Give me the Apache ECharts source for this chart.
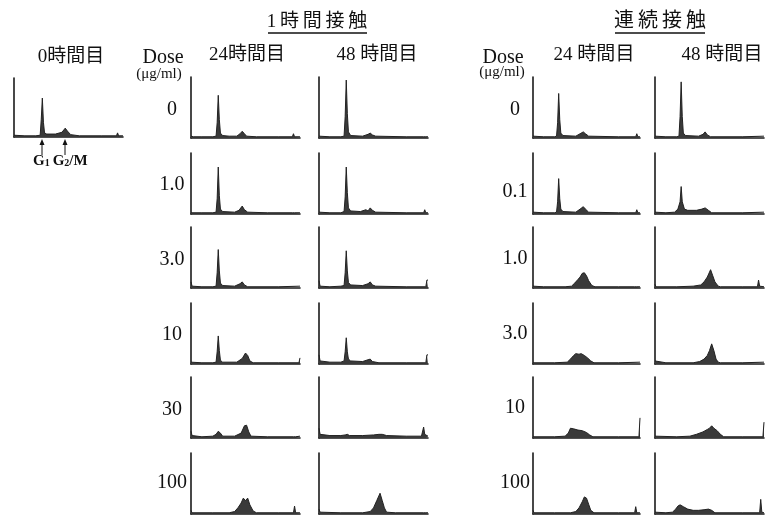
<!DOCTYPE html>
<html>
<head>
<meta charset="utf-8">
<script src="https://cdn.jsdelivr.net/npm/echarts@6/dist/echarts.min.js"></script>
<style>
html,body{margin:0;padding:0;background:#fff;}
#main{width:769px;height:517px;}
</style>
</head>
<body>
<div id="main"></div>
<script>
// dose labels per row
var doses1h = ['0', '1.0', '3.0', '10', '30', '100'];
var dosesCont = ['0', '0.1', '1.0', '3.0', '10', '100'];

// DNA histograms: [channel, count%]
var hist0h = [[0,3],[10,2],[20,2],[24,3],[25,30],[26,66],[27,25],[28,7],[30,5],[38,5],[44,8],[47,15],[49,10],[52,4],[60,2],[80,2],[94,2],[95,7],[96,2],[100,2]];

var hist1h24 = [
    [[0,3],[2,2],[10,2],[20,2],[23,3],[24,25],[25,70],[26,30],[27,8],[29,4],[35,3],[42,3],[45,7],[47,11],[49,7],[51,3],[60,2],[80,2],[93,2],[94,7],[95,2],[100,2]],
    [[0,2],[10,2],[20,2],[23,3],[24,25],[25,77],[26,30],[27,8],[29,4],[40,3],[44,6],[47,13],[49,7],[52,3],[70,2],[93,2],[94,3],[95,2],[100,2]],
    [[0,10],[1,3],[10,2],[20,2],[23,3],[24,25],[25,63],[26,28],[27,8],[29,4],[40,3],[45,7],[47,10],[49,5],[52,2],[80,2],[100,3]],
    [[0,3],[10,2],[20,2],[23,3],[24,20],[25,46],[26,22],[27,6],[29,3],[42,3],[47,9],[50,18],[52,14],[54,5],[57,2],[80,2],[99,2],[100,10]],
    [[0,11],[1,4],[10,2],[20,3],[23,6],[25,11],[27,8],[29,3],[40,3],[46,8],[49,20],[51,21],[53,10],[55,3],[70,2],[94,2],[95,5],[96,2],[100,3]],
    [[0,6],[1,2],[20,2],[35,2],[40,4],[43,10],[46,18],[48,26],[50,22],[52,26],[54,15],[57,5],[60,2],[80,2],[94,2],[95,13],[96,2],[100,2]]
];
var hist1h48 = [
    [[0,3],[10,2],[20,2],[23,3],[24,35],[25,95],[26,40],[27,10],[29,4],[40,3],[45,6],[47,8],[49,5],[52,3],[80,2],[96,2],[97,4],[98,2],[100,2]],
    [[0,3],[10,2],[20,2],[23,4],[24,28],[25,77],[26,35],[27,10],[29,5],[38,4],[43,7],[45,5],[47,10],[49,6],[52,3],[80,2],[96,2],[97,7],[98,2],[100,2]],
    [[0,12],[1,3],[10,2],[20,3],[23,4],[24,25],[25,61],[26,28],[27,9],[29,5],[40,4],[45,7],[47,10],[49,5],[52,3],[80,2],[98,2],[99,13],[100,13]],
    [[0,15],[1,5],[10,3],[20,3],[23,5],[24,20],[25,43],[26,20],[27,8],[29,5],[40,4],[45,7],[47,8],[49,4],[55,2],[80,2],[98,2],[99,15],[100,15]],
    [[0,16],[1,6],[10,4],[20,4],[24,5],[26,6],[28,4],[40,4],[50,5],[55,6],[58,6],[62,4],[80,3],[94,3],[96,18],[97,6],[98,3],[100,3]],
    [[0,8],[1,3],[20,2],[40,2],[47,4],[50,10],[53,22],[56,34],[58,22],[60,10],[62,3],[70,2],[96,2],[97,4],[98,2],[100,2]]
];
var histCont24 = [
    [[0,3],[10,2],[20,2],[22,3],[23,25],[24,73],[25,30],[26,8],[28,4],[40,3],[44,7],[47,10],[49,7],[52,3],[80,2],[96,2],[97,7],[98,2],[100,2]],
    [[0,3],[10,2],[20,2],[22,3],[23,20],[24,58],[25,25],[26,8],[28,4],[40,3],[44,8],[47,12],[49,8],[52,3],[80,2],[96,2],[97,7],[98,2],[100,2]],
    [[0,3],[10,2],[30,2],[36,3],[39,8],[42,14],[44,18],[46,24],[48,25],[50,20],[52,12],[55,4],[58,2],[80,2],[95,2],[96,5],[97,2],[100,2]],
    [[0,2],[20,2],[32,3],[35,8],[38,14],[40,17],[43,16],[45,17],[48,14],[51,10],[54,5],[57,2],[80,2],[100,3]],
    [[0,2],[20,2],[30,3],[33,8],[35,16],[38,15],[42,13],[46,12],[50,9],[53,5],[56,2],[80,2],[99,2],[100,33]],
    [[0,6],[1,2],[20,2],[35,2],[40,4],[43,10],[46,20],[48,28],[50,26],[52,16],[54,6],[57,2],[80,2],[95,2],[96,12],[97,2],[100,2]]
];
var histCont48 = [
    [[0,3],[10,2],[20,2],[22,3],[23,35],[24,92],[25,35],[26,8],[28,4],[40,3],[44,6],[46,10],[48,5],[51,2],[80,2],[100,3]],
    [[0,3],[10,2],[18,3],[21,8],[23,20],[24,45],[25,20],[27,8],[30,6],[38,6],[43,8],[46,10],[49,6],[52,2],[80,2],[100,3]],
    [[0,6],[1,2],[20,2],[35,3],[42,5],[45,10],[48,18],[51,30],[53,20],[55,10],[58,3],[60,2],[80,2],[94,2],[95,13],[96,3],[100,2]],
    [[0,5],[1,2],[10,2],[35,2],[41,4],[45,8],[48,14],[50,22],[52,33],[54,22],[56,8],[58,3],[60,2],[80,2],[100,3]],
    [[0,3],[20,2],[32,3],[38,6],[44,10],[48,14],[50,16],[52,20],[54,16],[57,12],[60,6],[63,2],[80,2],[99,2],[100,26]],
    [[0,3],[10,2],[16,3],[19,8],[21,13],[23,15],[26,12],[30,8],[35,6],[40,6],[45,7],[49,8],[52,6],[55,2],[80,2],[96,2],[97,24],[98,3],[100,2]]
];

// layout
var colLeft = [191, 319, 533, 655];
var colWidth = [109, 109, 107, 109];
var rowTop = [77, 153, 227, 303, 377, 453];
var rowH = 61;
var columns = [hist1h24, hist1h48, histCont24, histCont48];

var serif = '"Liberation Serif", "Noto Sans CJK JP", serif';
var jp = '"Liberation Serif", "Noto Sans CJK JP", sans-serif';

var grids = [], xAxes = [], yAxes = [], series = [];

function addPanel(left, top, width, height, data) {
    var i = grids.length;
    grids.push({left: left, top: top, width: width, height: height});
    var axisLine = {show: true, lineStyle: {color: '#1a1a1a', width: 1.6}};
    xAxes.push({gridIndex: i, type: 'value', min: 0, max: 100,
        axisLine: axisLine, axisTick: {show: false}, axisLabel: {show: false}, splitLine: {show: false}});
    yAxes.push({gridIndex: i, type: 'value', min: 0, max: 100,
        axisLine: axisLine, axisTick: {show: false}, axisLabel: {show: false}, splitLine: {show: false}});
    series.push({
        type: 'line', xAxisIndex: i, yAxisIndex: i, data: data,
        symbol: 'none', lineStyle: {color: '#222', width: 1},
        areaStyle: {color: '#3a3a3a', opacity: 1}
    });
}

addPanel(14, 78, 109, 59, hist0h);
columns.forEach(function (col, c) {
    col.forEach(function (h, r) {
        addPanel(colLeft[c], rowTop[r], colWidth[c], rowH, h);
    });
});

function txt(x, y, text, size, font) {
    return {type: 'text', x: x, y: y,
        style: {text: text, fontSize: size, fontFamily: font, fill: '#111',
            align: 'center', verticalAlign: 'middle'}};
}

var graphics = [
    txt(71, 57, '0時間目', 19, jp),
    txt(317, 22, '1\u2009時\u2009間\u2009接\u2009触', 19, jp),
    {type: 'line', shape: {x1: 268, y1: 33, x2: 367, y2: 33}, style: {stroke: '#111', lineWidth: 1.5}},
    txt(660, 22, '連\u2009続\u2009接\u2009触', 20, jp),
    {type: 'line', shape: {x1: 615, y1: 33, x2: 705, y2: 33}, style: {stroke: '#111', lineWidth: 1.5}},
    txt(163, 58, 'Dose', 20, serif),
    txt(159, 74, '(μg/ml)', 15, serif),
    txt(503, 58, 'Dose', 20, serif),
    txt(502, 72, '(μg/ml)', 15, serif),
    txt(247, 55, '24時間目', 19, jp),
    txt(377, 55, '48 時間目', 19, jp),
    txt(594, 55, '24 時間目', 19, jp),
    txt(722, 55, '48 時間目', 19, jp),
    // G1 / G2/M markers
    {type: 'line', shape: {x1: 42, y1: 142, x2: 42, y2: 155}, style: {stroke: '#111', lineWidth: 1}},
    {type: 'polygon', shape: {points: [[42, 139], [39.5, 145], [44.5, 145]]}, style: {fill: '#111'}},
    {type: 'line', shape: {x1: 65, y1: 142, x2: 65, y2: 155}, style: {stroke: '#111', lineWidth: 1}},
    {type: 'polygon', shape: {points: [[65, 139], [62.5, 145], [67.5, 145]]}, style: {fill: '#111'}},
    {type: 'text', x: 33, y: 161, style: {
        text: '{b|G}{s|1} {b|G}{s|2}{b|/M}', fontFamily: serif, fill: '#111',
        verticalAlign: 'middle',
        rich: {b: {fontSize: 15, fontWeight: 'bold', fontFamily: serif},
               s: {fontSize: 10, fontWeight: 'bold', fontFamily: serif, padding: [5, 0, 0, 0]}}
    }}
];

var dose1hY = [110, 185, 260, 335, 410, 483];
var doseContY = [110, 192, 259, 334, 408, 483];
doses1h.forEach(function (d, r) { graphics.push(txt(172, dose1hY[r], d, 20, serif)); });
dosesCont.forEach(function (d, r) { graphics.push(txt(515, doseContY[r], d, 20, serif)); });

var chart = echarts.init(document.getElementById('main'));
chart.setOption({
    animation: false,
    backgroundColor: '#fff',
    grid: grids,
    xAxis: xAxes,
    yAxis: yAxes,
    series: series,
    graphic: graphics
});
</script>
</body>
</html>
